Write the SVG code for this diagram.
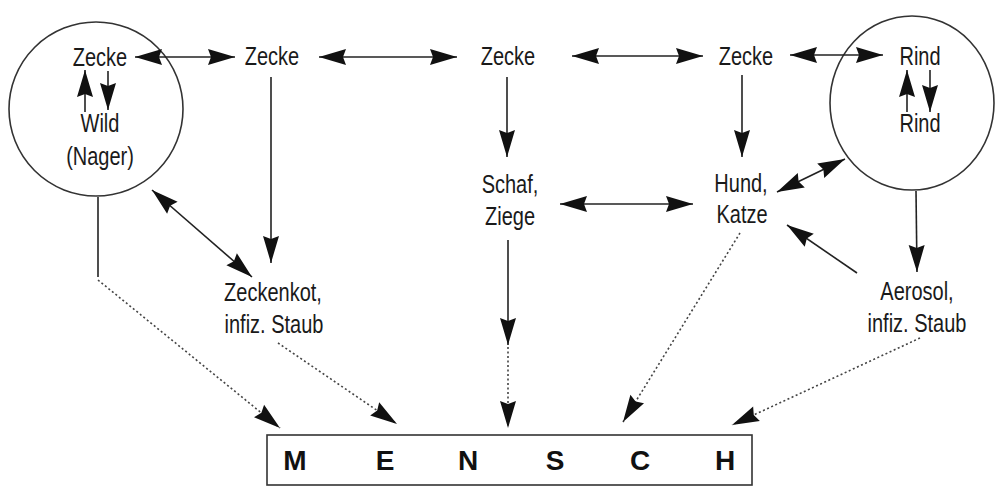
<svg xmlns="http://www.w3.org/2000/svg" width="995" height="487" viewBox="0 0 995 487">
<defs>
<style>
.t{font-family:"Liberation Sans",Arial,sans-serif;font-size:25px;fill:#1a1a1a;text-anchor:middle}
.m{font-family:"Liberation Sans",Arial,sans-serif;font-weight:bold;font-size:28px;fill:#111;text-anchor:middle}
.c{fill:none;stroke:#333;stroke-width:1.6}
.l{fill:none;stroke:#222;stroke-width:1.6}
.a{marker-end:url(#ah)}
.d{marker-start:url(#ah);marker-end:url(#ah)}
.dot{stroke-dasharray:2 2.5;stroke:#444}
</style>
<marker id="ah" markerUnits="userSpaceOnUse" refX="27" refY="8" markerWidth="28" markerHeight="16" orient="auto-start-reverse" overflow="visible">
<path d="M0,0 L27,8 L0,16 L3,8 Z" fill="#111"/>
</marker>
</defs>
<rect width="995" height="487" fill="#fff"/>
<g id="wild-circle">
<circle class="c" cx="96" cy="109" r="87"/>
<text class="t" transform="translate(100,66) scale(0.8,1)">Zecke</text>
<text class="t" transform="translate(100,132) scale(0.8,1)">Wild</text>
<text class="t" transform="translate(100,165) scale(0.8,1)">(Nager)</text>
</g>
<g id="zecke2"><text class="t" transform="translate(272,65) scale(0.8,1)">Zecke</text></g>
<g id="zecke3"><text class="t" transform="translate(508,65) scale(0.8,1)">Zecke</text></g>
<g id="zecke4"><text class="t" transform="translate(746,65) scale(0.8,1)">Zecke</text></g>
<g id="rind-circle">
<ellipse class="c" cx="912" cy="103" rx="82" ry="87"/>
<text class="t" transform="translate(920,65) scale(0.8,1)">Rind</text>
<text class="t" transform="translate(920,132) scale(0.8,1)">Rind</text>
</g>
<g id="schaf"><text class="t" transform="translate(510,193) scale(0.8,1)">Schaf,</text><text class="t" transform="translate(510,225) scale(0.8,1)">Ziege</text></g>
<g id="hund"><text class="t" transform="translate(741,192) scale(0.8,1)">Hund,</text><text class="t" transform="translate(742,223) scale(0.8,1)">Katze</text></g>
<g id="zeckenkot"><text class="t" transform="translate(273,301) scale(0.8,1)">Zeckenkot,</text><text class="t" transform="translate(274,333) scale(0.8,1)">infiz. Staub</text></g>
<g id="aerosol"><text class="t" transform="translate(917,300) scale(0.8,1)">Aerosol,</text><text class="t" transform="translate(917,332) scale(0.8,1)">infiz. Staub</text></g>
<g id="mensch">
<rect class="c" x="267" y="435" width="485" height="50"/>
<text class="m" x="295" y="470">M</text>
<text class="m" x="385" y="470">E</text>
<text class="m" x="468" y="470">N</text>
<text class="m" x="555" y="470">S</text>
<text class="m" x="640" y="470">C</text>
<text class="m" x="725" y="470">H</text>
</g>
<g id="connectors">
<line class="l a" x1="85" y1="112" x2="85" y2="70"/>
<line class="l a" x1="108" y1="71" x2="108" y2="110"/>
<line class="l a" x1="907" y1="112" x2="907" y2="70"/>
<line class="l a" x1="930" y1="70" x2="930" y2="112"/>
<line class="l d" x1="135" y1="57" x2="235" y2="57"/>
<line class="l d" x1="319" y1="57" x2="457" y2="57"/>
<line class="l d" x1="572" y1="56" x2="703" y2="56"/>
<line class="l d" x1="790" y1="55" x2="883" y2="55"/>
<line class="l a" x1="271" y1="77" x2="271" y2="263"/>
<line class="l a" x1="507" y1="77" x2="507" y2="157"/>
<line class="l a" x1="742" y1="75" x2="742" y2="157"/>
<line class="l d" x1="560" y1="204" x2="693" y2="204"/>
<line class="l d" x1="777" y1="192" x2="845" y2="159"/>
<line class="l a" x1="916" y1="191" x2="917" y2="272"/>
<line class="l a" x1="857" y1="273" x2="787" y2="225"/>
<line class="l d" x1="152" y1="190" x2="252" y2="277"/>
<line class="l" x1="98" y1="197" x2="98" y2="277"/>
<line class="l a dot" x1="98" y1="280" x2="280" y2="428"/>
<line class="l a dot" x1="278" y1="343" x2="397" y2="424"/>
<line class="l a" x1="508" y1="240" x2="508" y2="345"/>
<line class="l a dot" x1="508" y1="347" x2="508" y2="428"/>
<line class="l a dot" x1="740" y1="233" x2="623" y2="422"/>
<line class="l a dot" x1="920" y1="338" x2="732" y2="425"/>
</g>
</svg>
